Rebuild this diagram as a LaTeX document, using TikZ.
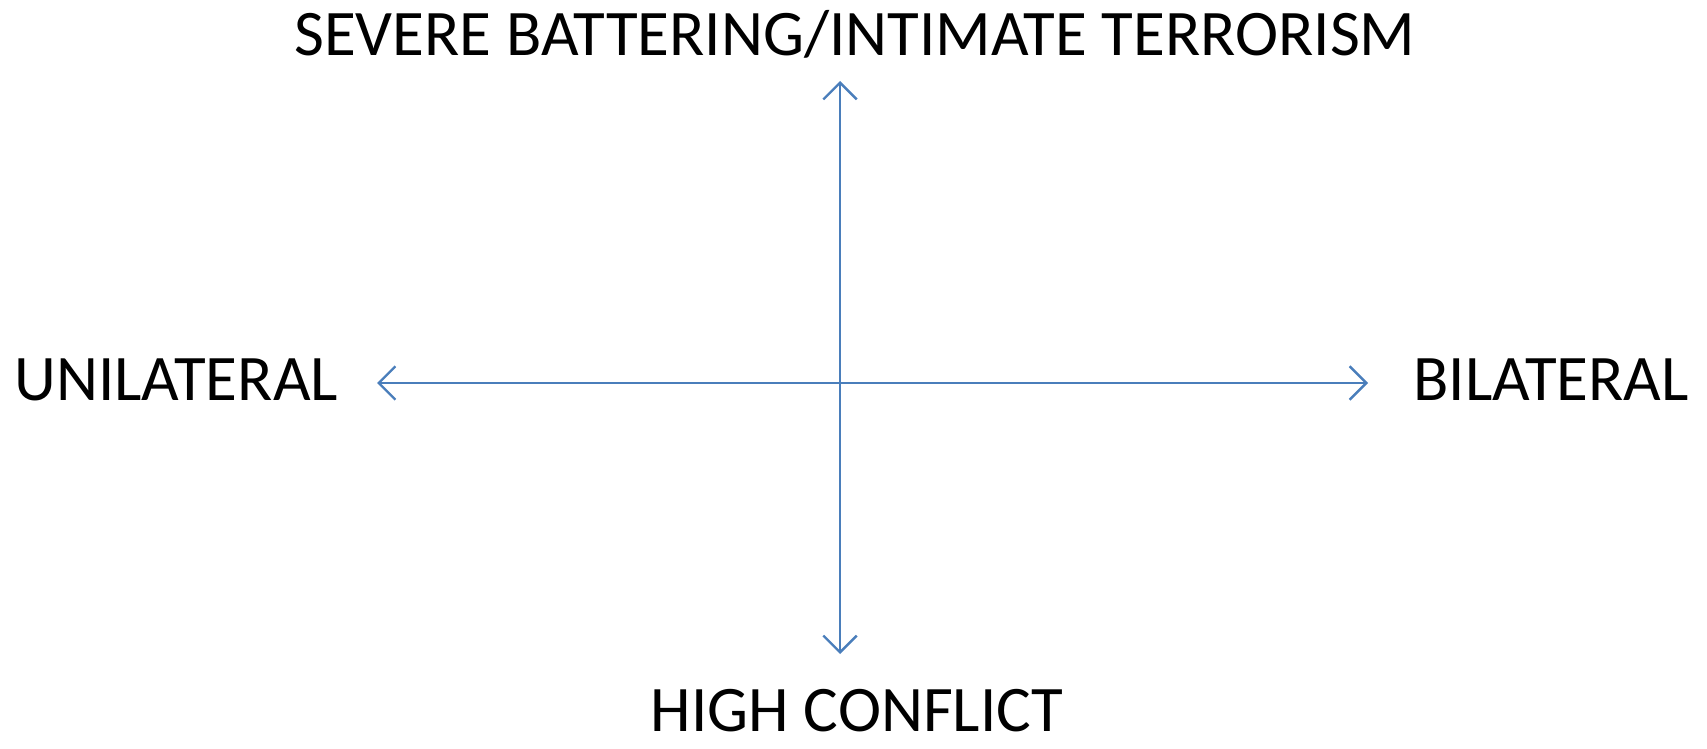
\documentclass[tikz,border=0pt]{standalone}
\usepackage{fontspec}
\setmainfont{Carlito}
\usetikzlibrary{arrows.meta}
\definecolor{axisblue}{RGB}{74,126,187}

\begin{document}
\begin{tikzpicture}[x=0.02cm, y=-0.02cm,
    axis/.style={draw=axisblue, line width=1.35pt, {Straight Barb[length=9.5pt, width=19pt, line width=1.35pt]}-{Straight Barb[length=9.5pt, width=19pt, line width=1.35pt]}},
    label/.style={font=\fontsize{37}{41}\selectfont, inner sep=0pt}]
    % Frame
    \useasboundingbox (0,0) rectangle (1707,749);

    % Axis ends
    \coordinate (top) at (840,81);
    \coordinate (bottom) at (840,654);
    \coordinate (left) at (377,383);
    \coordinate (right) at (1368,383);

    % Axes
    \draw[axis] (top) -- (bottom);
    \draw[axis] (left) -- (right);

    % Labels
    \node[label] (severe) at (855,34) {SEVERE BATTERING/INTIMATE TERRORISM};
    \node[label] (conflict) at (857,711) {HIGH CONFLICT};
    \node[label, anchor=west] (unilateral) at (14,380) {UNILATERAL};
    \node[label, anchor=east] (bilateral) at (1689,380) {BILATERAL};
\end{tikzpicture}
\end{document}
